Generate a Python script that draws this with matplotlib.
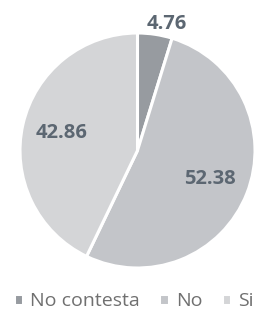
import numpy as np
import matplotlib.pyplot as plt

labels = ['No contesta', 'No', 'Si']
values = [4.76, 52.38, 42.86]
colors = ['#979ba0', '#c3c5c9', '#d4d5d7']

fig = plt.figure(figsize=(2.64, 3.18), dpi=100)
ax = fig.add_axes([20 / 264, 50 / 318, 235 / 264, 235 / 318])

wedges, texts, autotexts = ax.pie(values, colors=colors, startangle=90, counterclock=False,
                                  autopct='%.2f', pctdistance=0.66,
                                  wedgeprops=dict(edgecolor='white', linewidth=2.2),
                                  textprops=dict(color='#5c6772', fontsize=14.5, fontweight='bold',
                                                 family='Open Sans'))
# first label sits outside the small slice
ang = np.deg2rad((wedges[0].theta1 + wedges[0].theta2) / 2)
autotexts[0].set_position((1.11 * np.cos(ang) + 0.08, 1.11 * np.sin(ang) - 0.02))
ax.set_xlim(-1, 1)
ax.set_ylim(-1, 1)
ax.set_aspect('equal')

fig.legend(wedges, labels, loc='lower left', bbox_to_anchor=(-0.015, -0.03), ncol=3, frameon=False,
           handlelength=0.5, handleheight=0.5, handletextpad=0.35, columnspacing=1.0,
           prop=dict(family='Open Sans', size=14), labelcolor='#707070')

fig.savefig('out.png', dpi=100)
